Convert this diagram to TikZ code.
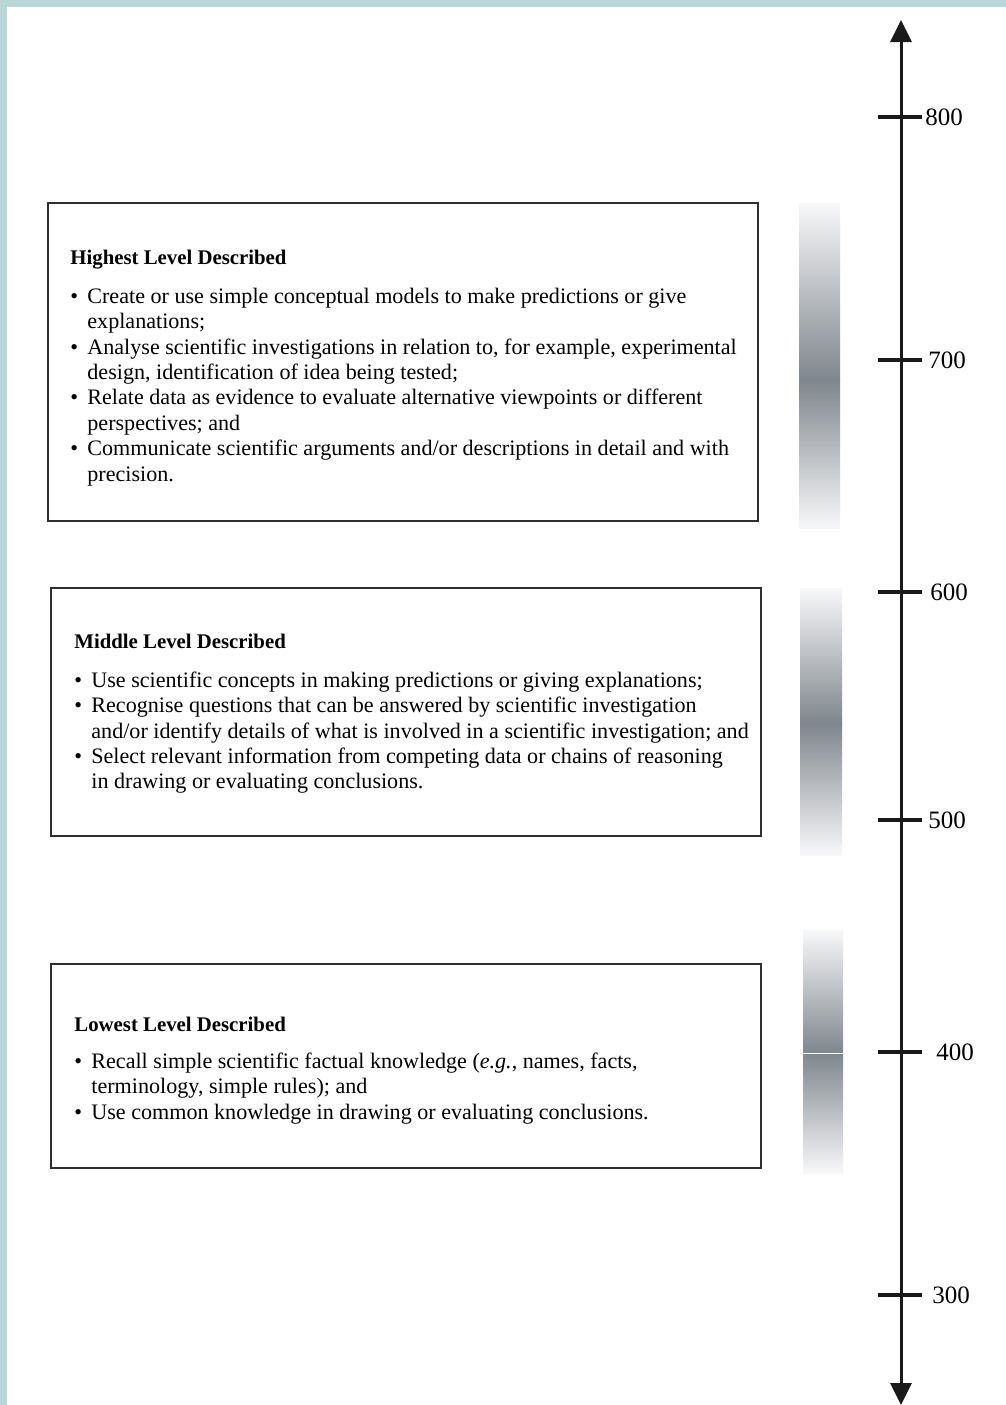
\documentclass[tikz,border=0pt]{standalone}
\usepackage{fontspec}
\setmainfont{Liberation Serif}
\usetikzlibrary{arrows.meta,calc}

\definecolor{frameteal}{HTML}{B9D7D9}
\definecolor{barlight}{HTML}{F8F8F9}
\definecolor{bardark}{HTML}{7F868D}
\definecolor{boxline}{HTML}{2F2F2F}

\newcommand{\bl}{\textbullet\hspace{0.42em}}
\newcommand{\ind}{\hphantom{\textbullet\hspace{0.42em}}}
\newcommand{\lvtitle}[1]{{\fontsize{10.4}{12.7}\selectfont\bfseries #1}}

\begin{document}
\begin{tikzpicture}
  [
    x=0.5pt, y=-0.5pt,
    level/.style =
      {draw=boxline, line width=0.75pt, rectangle, inner sep=0pt,
       anchor=north west, minimum width=355pt},
    desc/.style =
      {anchor=north west, align=left, inner sep=0pt,
       font=\fontsize{11.05}{12.7}\selectfont},
    bartop/.style =
      {top color=barlight, bottom color=bardark},
    barbot/.style =
      {top color=bardark, bottom color=barlight},
    scaleaxis/.style =
      {line width=1.5pt, draw=black!90,
       {Triangle[width=10.5pt,length=11pt]}-{Triangle[width=10.5pt,length=11pt]}},
    scaletick/.style =
      {line width=2pt, draw=black!90},
    scalelabel/.style =
      {anchor=west, inner sep=0pt, font=\fontsize{12.5}{14}\selectfont}
  ]

\useasboundingbox (0,0) rectangle (1006,1405);

% frame strips
\fill[frameteal] (0,0) rectangle (1006,7);
\fill[frameteal] (0,0) rectangle (7,1405);

% level boxes
\node[level, minimum height=159pt] (high) at (47,202) {};
\node[level, minimum height=124pt] (mid)  at (50,587) {};
\node[level, minimum height=102pt] (low)  at (50,963) {};

\node[desc] (hightxt) at ($(high.north west)+(23,48)$)
  {\lvtitle{Highest Level Described}\\[6.5pt]
   \bl Create or use simple conceptual models to make predictions or give\\
   \ind explanations;\\
   \bl Analyse scientific investigations in relation to, for example, experimental\\
   \ind design, identification of idea being tested;\\
   \bl Relate data as evidence to evaluate alternative viewpoints or different\\
   \ind perspectives; and\\
   \bl Communicate scientific arguments and/or descriptions in detail and with\\
   \ind precision.};

\node[desc] (midtxt) at ($(mid.north west)+(24,47)$)
  {\lvtitle{Middle Level Described}\\[6.5pt]
   \bl Use scientific concepts in making predictions or giving explanations;\\
   \bl Recognise questions that can be answered by scientific investigation\\
   \ind and/or identify details of what is involved in a scientific investigation; and\\
   \bl Select relevant information from competing data or chains of reasoning\\
   \ind in drawing or evaluating conclusions.};

\node[desc] (lowtxt) at ($(low.north west)+(24,54)$)
  {\lvtitle{Lowest Level Described}\\[5.5pt]
   \bl Recall simple scientific factual knowledge (\textit{e.g.}, names, facts,\\
   \ind terminology, simple rules); and\\
   \bl Use common knowledge in drawing or evaluating conclusions.};

% shaded bars
\shade[bartop] (799,203) rectangle (840,380);
\shade[barbot] (799,380) rectangle (840,528);
\shade[bartop] (800,588) rectangle (842,723);
\shade[barbot] (800,723) rectangle (842,855);
\shade[bartop] (803,930) rectangle (843,1053);
\shade[barbot] (803,1053) rectangle (843,1173);
\draw[white, line width=0.5pt] (803,1053) -- (843,1053);

% scale
\coordinate (axtop) at (901,20);
\coordinate (axbot) at (901,1405);
\draw[scaleaxis] (axbot) -- (axtop);

\foreach \val/\ypos/\lx in {800/117/925, 700/360/928, 600/592/930,
                            500/820/928, 400/1052/936, 300/1295/932}
{
  \draw[scaletick] (878,\ypos) -- (922,\ypos);
  \node[scalelabel] (lab\val) at (\lx,\ypos) {\val};
}

\end{tikzpicture}
\end{document}
